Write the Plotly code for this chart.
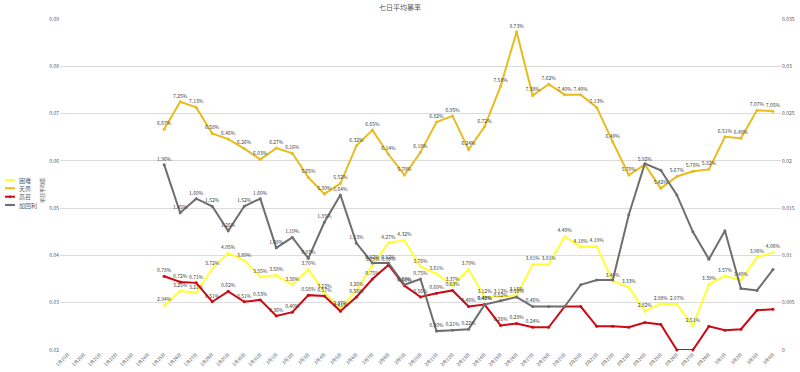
import plotly.graph_objects as go

categories = ["1月19日", "1月20日", "1月21日", "1月22日", "1月23日", "1月24日", "1月25日", "1月26日",
              "1月27日", "1月28日", "1月29日", "1月30日", "1月31日", "2月1日", "2月2日", "2月3日",
              "2月4日", "2月5日", "2月6日", "2月7日", "2月8日", "2月9日", "2月10日", "2月11日",
              "2月12日", "2月13日", "2月14日", "2月15日", "2月16日", "2月17日", "2月18日", "2月19日",
              "2月20日", "2月21日", "2月22日", "2月23日", "2月24日", "2月25日", "2月26日", "2月27日",
              "2月28日", "3月1日", "3月2日", "3月3日", "3月4日"]

pad = [None] * 6

s_yellow = pad + [0.0294, 0.0325, 0.0321, 0.0372, 0.0405, 0.0389, 0.0355, 0.0358, 0.0338, 0.0370,
                  0.0322, 0.0287, 0.0326, 0.0379, 0.0427, 0.0432, 0.0376, 0.0361, 0.0337, 0.0370,
                  0.0312, 0.0312, 0.0316, 0.0381, 0.0381, 0.0440, 0.0418, 0.0419, 0.0346, 0.0333,
                  0.0282, 0.0298, 0.0297, 0.0251, 0.0339, 0.0357, 0.0348, 0.0396, 0.0406]

s_gold = pad + [0.0667, 0.0725, 0.0713, 0.0658, 0.0646, 0.0626, 0.0603, 0.0627, 0.0616, 0.0565,
                0.0530, 0.0552, 0.0632, 0.0665, 0.0614, 0.0570, 0.0618, 0.0682, 0.0695, 0.0624,
                0.0672, 0.0758, 0.0873, 0.0738, 0.0762, 0.0740, 0.0740, 0.0713, 0.0640, 0.0570,
                0.0592, 0.0542, 0.0567, 0.0578, 0.0582, 0.0651, 0.0648, 0.0707, 0.0705]

s_red = pad + [0.0078, 0.0072, 0.0071, 0.0051, 0.0062, 0.0051, 0.0053, 0.0036, 0.0040, 0.0058,
               0.0057, 0.0041, 0.0056, 0.0075, 0.0090, 0.0068, 0.0056, 0.0060, 0.0063, 0.0046,
               0.0048, 0.0026, 0.0028, 0.0024, 0.0024, 0.0046, 0.0046, 0.0025, 0.0025, 0.0024,
               0.0029, 0.0027, 0.0000, 0.0000, 0.0025, 0.0021, 0.0022, 0.0042, 0.0043]

s_grey = pad + [0.0196, 0.0145, 0.0160, 0.0152, 0.0126, 0.0152, 0.0160, 0.0108, 0.0119, 0.0097,
                0.0135, 0.0164, 0.0113, 0.0092, 0.0092, 0.0069, 0.0075, 0.0020, 0.0021, 0.0022,
                0.0048, 0.0052, 0.0056, 0.0046, 0.0046, 0.0046, 0.0069, 0.0074, 0.0074, 0.0143,
                0.0197, 0.0190, 0.0164, 0.0125, 0.0096, 0.0126, 0.0065, 0.0063, 0.0085]

series_names = ["困难", "天界", "高召", "加回利"]
series_colors = ["#FFFF33", "#E8BC1E", "#CC0A14", "#6E6E6E"]
label_last_index = [44, 44, 29, 29]   # points after this index carry no data label

left_ticks = [0.02, 0.03, 0.04, 0.05, 0.06, 0.07, 0.08, 0.09]
right_ticks = [0, 0.005, 0.01, 0.015, 0.02, 0.025, 0.03, 0.035]

W, H = 800, 372
L, R, T, B = 60, 19, 19, 22

def labels(vals, last):
    return ["" if (v is None or i > last) else f"{v*100:.2f}%" for i, v in enumerate(vals)]

fig = go.Figure()
all_series = [s_yellow, s_gold, s_red, s_grey]
axes = ["y", "y", "y2", "y2"]
for vals, name, col, last, ax in zip(all_series, series_names, series_colors, label_last_index, axes):
    fig.add_trace(go.Scatter(
        x=categories, y=vals, name=name, yaxis=ax,
        mode="lines+markers+text",
        line=dict(color=col, width=2),
        marker=dict(color=col, size=3),
        text=labels(vals, last), textposition="top center",
        textfont=dict(size=5, color="#404040", family="Noto Sans CJK SC"),
        cliponaxis=False, showlegend=False,
    ))

# legend drawn at the left
def px_x(px):
    return (px - L) / (W - L - R)

def px_y(py):
    return 1 - (py - T) / (H - T - B)

leg_y = [180, 188.3, 196.7, 205]
for name, col, py in zip(series_names, series_colors, leg_y):
    fig.add_shape(type="line", xref="paper", yref="paper", x0=px_x(5), x1=px_x(15),
                  y0=px_y(py), y1=px_y(py), line=dict(color=col, width=2))
    fig.add_shape(type="circle", xref="paper", yref="paper", x0=px_x(8.7), x1=px_x(11.3),
                  y0=px_y(py - 1.3), y1=px_y(py + 1.3), fillcolor=col, line=dict(width=0))
    fig.add_annotation(xref="paper", yref="paper", x=px_x(17), y=px_y(py), text=name,
                       showarrow=False, xanchor="left", yanchor="middle",
                       font=dict(size=6, color="#595959", family="Noto Sans CJK SC"))

fig.add_annotation(xref="paper", yref="paper", x=px_x(42), y=px_y(191), text="单日平均值",
                   textangle=-90, showarrow=False, xanchor="center", yanchor="middle",
                   font=dict(size=5, color="#595959", family="Noto Sans CJK SC"))

fig.update_layout(
    width=W, height=H,
    margin=dict(l=L, r=R, t=T, b=B, autoexpand=False),
    paper_bgcolor="white", plot_bgcolor="white",
    title=dict(text="七日平均暴率", x=0.5, xanchor="center", y=1 - 7.5 / H, yanchor="middle",
               xref="container", yref="container",
               font=dict(size=7, color="#595959", family="Noto Sans CJK SC")),
    font=dict(family="Noto Sans CJK SC", color="#595959"),
    xaxis=dict(type="category", range=[-0.5, len(categories) - 0.5], tickangle=-45,
               tickfont=dict(size=4.5, color="#595959"), showgrid=False, showline=False,
               ticks="", zeroline=False),
    yaxis=dict(range=[0.02, 0.09], tickvals=left_ticks, ticktext=[f"{v:.2f}" for v in left_ticks],
               tickfont=dict(size=5, color="#595959"), showgrid=True, gridcolor="#DCDCDC",
               gridwidth=1, zeroline=False, showline=False, ticks=""),
    yaxis2=dict(range=[0, 0.035], tickvals=right_ticks, ticktext=[f"{v:g}" for v in right_ticks],
                overlaying="y", side="right", showgrid=False, zeroline=False,
                tickfont=dict(size=5, color="#595959"), ticks="", showline=False),
)

fig.write_html("out.html", config={"displayModeBar": False},
               post_script="document.body.style.margin='0';")
